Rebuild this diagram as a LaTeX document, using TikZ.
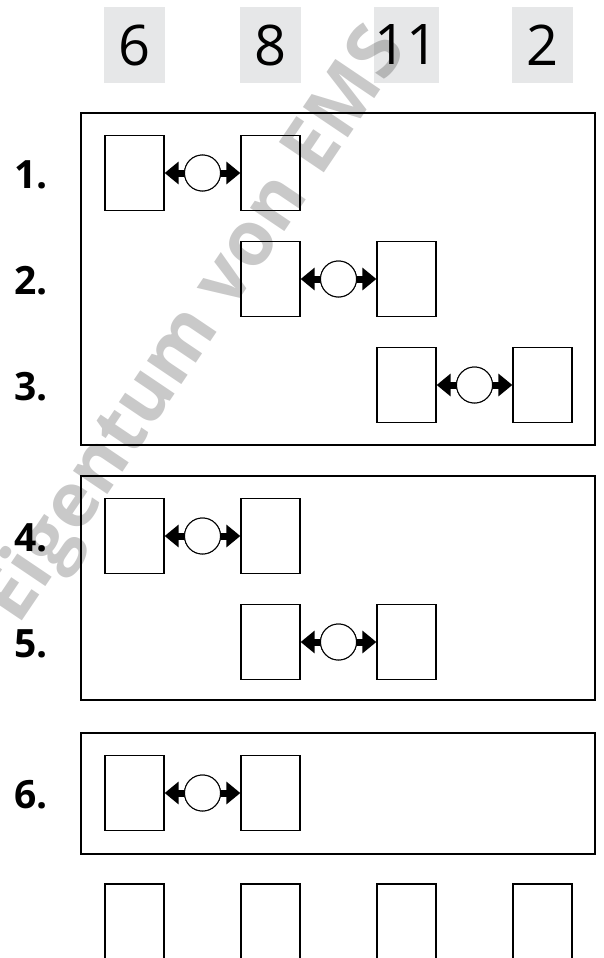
\documentclass[tikz,border=0pt]{standalone}
\usepackage{fontspec}
\setmainfont{Open Sans}
\usetikzlibrary{arrows.meta}
\definecolor{numgray}{HTML}{E6E7E8}
\tikzset{
  cell/.style={draw, line width=1.3pt, minimum width=59pt, minimum height=75pt, inner sep=0pt, fill=white},
  numbox/.style={fill=numgray, minimum width=61pt, minimum height=76pt, inner sep=0pt, font=\fontsize{56}{60}\selectfont},
  framebox/.style={draw, line width=2pt},
  ring/.style={draw, circle, line width=1pt, minimum size=36pt, inner sep=0pt, fill=white},
  link/.style={line width=7pt, -{Triangle[length=14pt 0 0,width=22pt 0 0]}},
  lbl/.style={font=\bfseries\fontsize{39}{42}\selectfont, inner sep=0pt},
  mark text/.style={font=\bfseries\fontsize{76}{80}\selectfont, text=black, opacity=0.21, rotate=56}
}
\begin{document}
\begin{tikzpicture}[x=1pt,y=-1pt]
\useasboundingbox (0,0) rectangle (603,958);
% number header
\node[numbox] (n1) at (134.5,45) {6};
\node[numbox] (n2) at (270.5,45) {8};
\node[numbox] (n3) at (406.5,45) {11};
\node[numbox] (n4) at (542.5,45) {2};
% frames
\draw[framebox] (81,113) rectangle (595,445);
\draw[framebox] (81,476) rectangle (595,700);
\draw[framebox] (81,733) rectangle (595,854);
% labels
\node[lbl] (l1) at (31,175) {1.};
\node[lbl] (l2) at (31,281) {2.};
\node[lbl] (l3) at (31,387) {3.};
\node[lbl] (l4) at (31,538) {4.};
\node[lbl] (l5) at (31,644) {5.};
\node[lbl] (l6) at (31,795) {6.};
% pairs
\foreach \r/\y/\a/\b in {1/173/134.5/270.5, 2/279/270.5/406.5, 3/385/406.5/542.5, 4/536/134.5/270.5, 5/642/270.5/406.5, 6/793/134.5/270.5}{
  \node[cell] (a\r) at (\a,\y) {};
  \node[cell] (b\r) at (\b,\y) {};
  \node[ring] (c\r) at ({(\a+\b)/2},\y) {};
  \draw[link] (c\r.center) -- (a\r.east);
  \draw[link] (c\r.center) -- (b\r.west);
  \node[ring] at (c\r) {};
}
% bottom open boxes
\foreach \i/\x in {1/134.5,2/270.5,3/406.5,4/542.5}{
  \coordinate (bl\i) at (\x-29.5,970);
  \coordinate (tr\i) at (\x+29.5,884);
  \draw[line width=1.3pt] (bl\i) rectangle (tr\i);
}
% watermark
\node[mark text] (wm) at (197,327) {Eigentum von EMS};
\end{tikzpicture}
\end{document}
